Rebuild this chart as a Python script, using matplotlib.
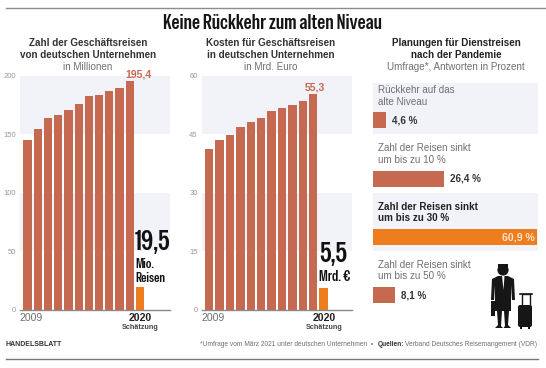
import matplotlib
matplotlib.use("Agg")
import matplotlib.pyplot as plt
from matplotlib.patches import Circle, Polygon, Rectangle, FancyBboxPatch

W, H = 546, 368
REGULAR = ['Liberation Sans', 'DejaVu Sans']
NARROW = ['Special Gothic Condensed One', 'Roboto Condensed', 'Liberation Sans', 'DejaVu Sans']
plt.rcParams['font.family'] = REGULAR

# Data
trips = [145.2, 154.9, 164.0, 166.3, 171.1, 175.7, 182.9, 183.5, 187.4, 189.7, 195.4]
trips_2020 = 19.5
costs = [41.2, 43.6, 44.8, 46.8, 48.3, 49.3, 51.0, 51.7, 52.6, 53.6, 55.3]
costs_2020 = 5.5
trip_ticks = [0, 50, 100, 150, 200]
cost_ticks = [0, 15, 30, 45, 60]
plan_labels = ["Rückkehr auf das\nalte Niveau", "Zahl der Reisen sinkt\num bis zu 10 %",
               "Zahl der Reisen sinkt\num bis zu 30 %", "Zahl der Reisen sinkt\num bis zu 50 %"]
plan_values = [4.6, 26.4, 60.9, 8.1]
plan_texts = ["4,6 %", "26,4 %", "60,9 %", "8,1 %"]

RUST = '#c56a50'
ORANGE = '#ee7d1e'
BAND = '#f1f3f8'
GREY = '#6f6f6f'
DARK = '#222222'
AX = '#8a8a8a'

fig = plt.figure(figsize=(W / 100, H / 100), dpi=100, facecolor='white')


def px_axes(x0, y0, x1, y1, **kw):
    return fig.add_axes([x0 / W, 1 - y1 / H, (x1 - x0) / W, (y1 - y0) / H], **kw)


def column_chart(x0, x1, values, last, ticks, first_center_px, step_px, width_px):
    ax = px_axes(x0, 76, x1, 309.5)
    ax.set_xlim((x0 - first_center_px) / step_px, (x1 - first_center_px) / step_px)
    ax.set_ylim(0, ticks[-1])
    ax.axhspan(ticks[3], ticks[4], color=BAND, lw=0, zorder=0)
    ax.axhspan(ticks[1], ticks[2], color=BAND, lw=0, zorder=0)
    w = width_px / step_px
    ax.bar(range(len(values)), values, width=w, color=RUST, zorder=2)
    ax.bar([len(values)], [last], width=w, color=ORANGE, zorder=2)
    for s in ('top', 'left', 'right'):
        ax.spines[s].set_visible(False)
    ax.spines['bottom'].set_color(AX)
    ax.spines['bottom'].set_linewidth(1.0)
    ax.set_xticks([])
    ax.set_yticks(ticks)
    ax.set_yticklabels([str(t) for t in ticks], fontsize=5.5, color='#999999')
    ax.tick_params(axis='y', length=0, pad=3)
    ax.patch.set_alpha(0)
    return ax


column_chart(20, 170, trips, trips_2020, trip_ticks, 27.5, 10.23, 8.3)
column_chart(201.7, 351.7, costs, costs_2020, cost_ticks, 209.2, 10.4, 8.3)

# Survey bars
plan_ax = px_axes(373.3, 91, 537.7, 324.5)
plan_ax.set_xlim(0, 61.1)
plan_ax.set_ylim(3.5, -0.5)
plan_ax.axis('off')
plan_ax.patch.set_alpha(0)
plan_ax.barh(range(len(plan_values)), plan_values, height=16 / 58.4,
             color=[RUST, RUST, ORANGE, RUST], zorder=2)

# Overlay in pixel coordinates for page furniture and text
ov = fig.add_axes([0, 0, 1, 1], zorder=-1)
ov.set_xlim(0, W)
ov.set_ylim(H, 0)
ov.axis('off')
top = fig.add_axes([0, 0, 1, 1], zorder=5)
top.set_xlim(0, W)
top.set_ylim(H, 0)
top.axis('off')
top.patch.set_alpha(0)

ov.add_patch(Rectangle((373.3, 83), 164.4, 51, color=BAND, lw=0))
ov.add_patch(Rectangle((373.3, 193.3), 164.4, 57.7, color=BAND, lw=0))

top.plot([6, 546], [7.5, 7.5], color='#8c8c8c', lw=1.0)
top.plot([6, 538], [358.5, 358.5], color='#777777', lw=1.0)


def T(x, y, s, size, color=DARK, weight='normal', ha='left', family=REGULAR, **kw):
    return top.text(x, y, s, fontsize=size, color=color, fontweight=weight, ha=ha, va='center',
                    family=family, **kw)


T(272, 23, "Keine Rückkehr zum alten Niveau", 14.6, '#151515', 'normal', 'center', NARROW)

T(88, 43.5, "Zahl der Geschäftsreisen", 7.1, '#333333', 'bold', 'center')
T(88, 55.5, "von deutschen Unternehmen", 7.1, '#333333', 'bold', 'center')
T(88, 67, "in Millionen", 7.1, GREY, 'normal', 'center')
T(139, 74.5, "195,4", 7.6, RUST, 'bold', 'center')

T(271, 43.5, "Kosten für Geschäftsreisen", 7.1, '#333333', 'bold', 'center')
T(271, 55.5, "in deutschen Unternehmen", 7.1, '#333333', 'bold', 'center')
T(271, 67, "in Mrd. Euro", 7.1, GREY, 'normal', 'center')
T(315, 87, "55,3", 7.6, RUST, 'bold', 'center')

T(20, 318, "2009", 7.6, GREY)
T(140, 318, "2020", 7.6, DARK, 'bold', 'center')
T(140, 327.5, "Schätzung", 5.2, '#444444', 'bold', 'center')
T(201, 318, "2009", 7.6, GREY)
T(324, 318, "2020", 7.6, DARK, 'bold', 'center')
T(324, 327.5, "Schätzung", 5.2, '#444444', 'bold', 'center')

T(135, 243, "19,5", 20, '#111111', 'normal', family=NARROW)
T(135.5, 264, "Mio.", 9.8, '#111111', 'normal', family=NARROW)
T(135.5, 277.5, "Reisen", 9.8, '#111111', 'normal', family=NARROW)
T(319, 255, "5,5", 20, '#111111', 'normal', family=NARROW)
T(319, 277, "Mrd. €", 10.6, '#111111', 'normal', family=NARROW)

T(456, 43.5, "Planungen für Dienstreisen", 7.1, '#222222', 'bold', 'center')
T(456, 55.5, "nach der Pandemie", 7.1, '#222222', 'bold', 'center')
T(456, 67, "Umfrage*, Antworten in Prozent", 7.1, GREY, 'normal', 'center')

label_y = [96, 154, 212.5, 270.5]
for i, y in enumerate(label_y):
    bold = i == 2
    T(377.5, y, plan_labels[i], 7.1, '#222222' if bold else GREY, 'bold' if bold else 'normal', linespacing=1.15)

T(392, 120.5, plan_texts[0], 7.1, '#333333', 'bold')
T(450, 178.5, plan_texts[1], 7.1, '#333333', 'bold')
T(535, 237, plan_texts[2], 7.6, '#fbe3cd', 'bold', 'right')
T(401, 296, plan_texts[3], 7.1, '#333333', 'bold')

T(6, 344.5, "HANDELSBLATT", 5.0, '#333333', 'bold')
T(200, 344.5, "*Umfrage vom März 2021 unter deutschen Unternehmen  •", 4.75, GREY)
T(378, 344.5, "Quellen:", 4.75, '#333333', 'bold')
T(405, 344.5, "Verband Deutsches Reisemangement (VDR)", 4.75, GREY)

# Traveller icon
ink = '#161616'
top.add_patch(Circle((503, 270), 5.6, color=ink, lw=0))
top.add_patch(Rectangle((498, 263.5), 10, 3, color=ink, lw=0))
top.add_patch(Polygon([(498, 276), (508, 276), (514, 279), (515, 300), (512, 300), (511, 285),
                       (511, 311), (495, 311), (495, 285), (494, 300), (491, 300), (492, 279)],
                      closed=True, color=ink, lw=0))
top.add_patch(Polygon([(502, 276), (504.5, 276), (503.5, 290)], closed=True, color='white', lw=0))
top.add_patch(Rectangle((491, 301), 4, 15, color=ink, lw=0))
top.add_patch(Polygon([(497, 311), (502, 311), (501, 326), (503, 328), (495, 328), (498, 325)],
                      closed=True, color=ink, lw=0))
top.add_patch(Polygon([(504, 311), (509, 311), (508, 325), (511, 328), (503.5, 328), (505, 326)],
                      closed=True, color=ink, lw=0))
top.add_patch(FancyBboxPatch((518, 305), 14, 22, boxstyle='round,pad=0,rounding_size=2', color=ink, lw=0))
top.plot([522, 522, 530, 530], [305, 294, 294, 305], color=ink, lw=1.0, solid_capstyle='butt')
top.plot([520, 532], [294, 294], color=ink, lw=1.2)
top.add_patch(Rectangle((520, 327), 2, 1.5, color=ink, lw=0))
top.add_patch(Rectangle((528, 327), 2, 1.5, color=ink, lw=0))

fig.savefig('out.png', dpi=100, facecolor='white')
